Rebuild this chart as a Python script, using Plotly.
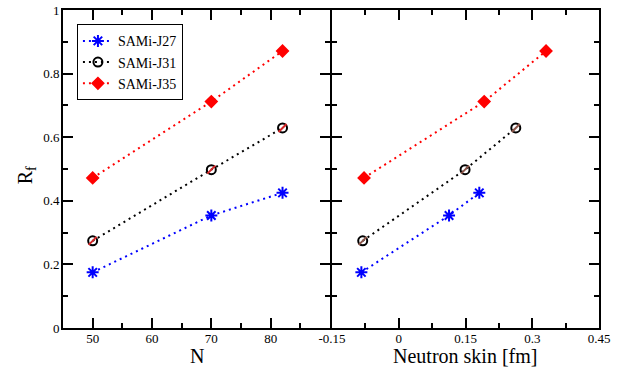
import plotly.graph_objects as go

# ---- data ----
series_names = ["SAMi-J27", "SAMi-J31", "SAMi-J35"]
N_values = [50, 70, 82]
Rf_J27 = [0.175, 0.354, 0.425]
Rf_J31 = [0.274, 0.498, 0.629]
Rf_J35 = [0.472, 0.712, 0.871]
skin_J27 = [-0.084, 0.113, 0.181]
skin_J31 = [-0.081, 0.149, 0.263]
skin_J35 = [-0.078, 0.192, 0.331]

left_xticks = [50, 60, 70, 80]
left_xticktext = ["50", "60", "70", "80"]
right_xticks = [-0.15, 0, 0.15, 0.3, 0.45]
right_xticktext = ["-0.15", "0", "0.15", "0.3", "0.45"]
yticks = [0, 0.2, 0.4, 0.6, 0.8, 1]
yticktext = ["0", "0.2", "0.4", "0.6", "0.8", "1"]

FONT = "Liberation Serif, Times New Roman, serif"
colors = ["#0000ff", "#000000", "#ff0000"]
rf_sets = [Rf_J27, Rf_J31, Rf_J35]
skin_sets = [skin_J27, skin_J31, skin_J35]
symbols = ["asterisk-open", "circle-open", "diamond"]

fig = go.Figure()
for i, name in enumerate(series_names):
    c = colors[i]
    mk = dict(symbol=symbols[i], color=c, size=10 if i == 0 else 9,
              line=dict(color=c, width=2 if i != 2 else 1.5))
    ln = dict(color=c, width=2, dash="2px,4px")
    for xs, xa, ya, show in [(N_values, "x", "y", True), (skin_sets[i], "x2", "y2", False)]:
        fig.add_trace(go.Scatter(x=xs, y=rf_sets[i], mode="lines+markers", name=name,
                                 marker=mk, line=ln, xaxis=xa, yaxis=ya,
                                 showlegend=show, legendgroup=name))
        if i == 1:
            fig.add_trace(go.Scatter(x=xs, y=rf_sets[i], mode="markers", name=name,
                                     marker=dict(symbol="line-ne-open", size=8,
                                                 line=dict(color=c, width=2)),
                                     xaxis=xa, yaxis=ya, showlegend=False,
                                     legendgroup=name, hoverinfo="skip"))

axis_common = dict(showline=True, linecolor="black", linewidth=2, mirror="allticks",
                   ticks="inside", ticklen=10, tickwidth=1.5, tickcolor="black",
                   showgrid=False, zeroline=False, automargin=False,
                   tickfont=dict(family=FONT, size=13, color="black"))
minor_common = dict(ticks="inside", ticklen=5, tickcolor="black", tickwidth=1.5, showgrid=False)

PW = 638 - 63 - 39
half = 1.0 / PW  # 1px in paper units

fig.update_layout(
    template="none",
    width=638, height=367,
    margin=dict(l=63, r=39, t=10, b=39),
    paper_bgcolor="white", plot_bgcolor="white",
    font=dict(family=FONT, color="black"),
    xaxis=dict(domain=[0, 0.5 - half], range=[45, 90], tickmode="array",
               tickvals=left_xticks, ticktext=left_xticktext, ticklabelstandoff=-3,
               minor=dict(dtick=5, tick0=45, **minor_common), **axis_common),
    yaxis=dict(range=[0, 1], tickmode="array", tickvals=yticks, ticktext=yticktext,
               ticklabelstandoff=-1,
               minor=dict(dtick=0.1, tick0=0, **minor_common), **axis_common),
    xaxis2=dict(domain=[0.5 + half, 1], range=[-0.15, 0.45], anchor="y2", tickmode="array",
                tickvals=right_xticks, ticktext=right_xticktext, ticklabelstandoff=-3,
                minor=dict(dtick=0.075, tick0=-0.15, **minor_common), **axis_common),
    yaxis2=dict(range=[0, 1], anchor="x2", tickmode="array", tickvals=yticks,
                showticklabels=False,
                minor=dict(dtick=0.1, tick0=0, **minor_common), **axis_common),
    legend=dict(x=0.026, y=0.955, xanchor="left", yanchor="top",
                bordercolor="black", borderwidth=1, bgcolor="white",
                font=dict(family=FONT, size=14, color="black"),
                tracegroupgap=0, itemwidth=30),
    showlegend=True,
    annotations=[
        dict(text="N", xref="paper", yref="paper", x=0.25, y=0, yshift=-28,
             xanchor="center", yanchor="middle", showarrow=False,
             font=dict(family=FONT, size=20, color="black")),
        dict(text="Neutron skin [fm]", xref="paper", yref="paper", x=0.75, y=0, yshift=-28,
             xanchor="center", yanchor="middle", showarrow=False,
             font=dict(family=FONT, size=20, color="black")),
        dict(text="R<sub>f</sub>", xref="paper", yref="paper", x=(26 - 63) / PW, y=0.48,
             xanchor="center", yanchor="middle", showarrow=False, textangle=-90,
             font=dict(family=FONT, size=20, color="black")),
    ],
)

fig.write_html("out.html", config={"displayModeBar": False},
               post_script="document.body.style.margin='0';")
